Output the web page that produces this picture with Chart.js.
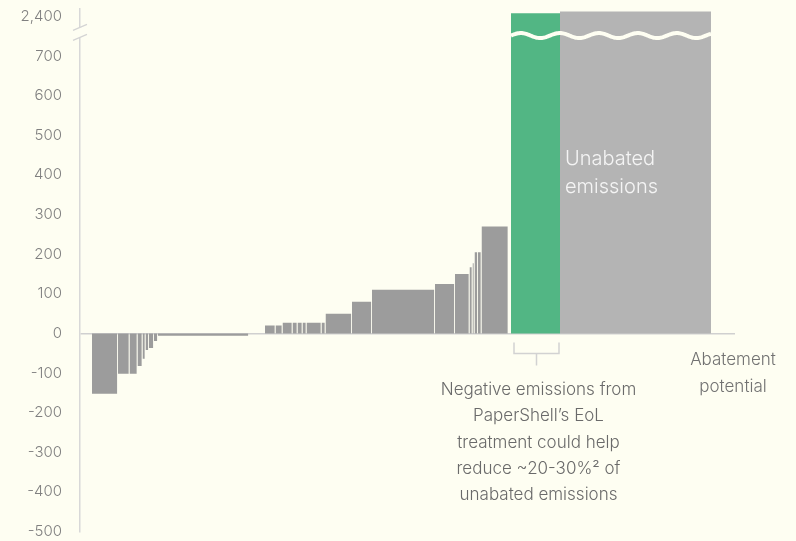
<!DOCTYPE html>
<html>
<head>
<meta charset="utf-8">
<script src="https://cdn.jsdelivr.net/npm/chart.js@4/dist/chart.umd.min.js"></script>
<style>
  html, body { margin: 0; padding: 0; background: #fefef2; }
  #wrap { width: 796px; height: 541px; position: relative; }
</style>
</head>
<body>
<div id="wrap"><canvas id="macChart"></canvas></div>
<script>
// abatement cost curve: cost per measure and its abatement potential (bar width)
var costs      = [-152, -102, -102, -82, -64, -42, -37, -19, -6, 0, 20, 20, 27, 27, 27, 27, 27, 27, 50, 80, 110, 125, 150, 167, 177, 205, 205, 270, 0];
var potentials = [26, 11.5, 8, 5, 3, 3.5, 5, 4, 91, 16, 10.5, 7, 10, 5, 5, 4, 15, 4, 26.5, 20, 63, 20, 14.5, 3, 2, 3.5, 3.5, 27, 2.5];

// negative emissions (green) and remaining unabated emissions (broken axis, shown as 2,400)
var negativePotential  = 49;
var negativeHeight     = 808;
var unabatedPotential  = 151;
var unabatedHeight     = 813;

var yTicks = [-500, -400, -300, -200, -100, 0, 100, 200, 300, 400, 500, 600, 700, 800];
var yTickLabels = ['-500', '-400', '-300', '-200', '-100', '0', '100', '200', '300', '400', '500', '600', '700', '2,400'];

var BG = '#fefef2';
var FONT = 'Inter, "Noto Sans", sans-serif';

function barData(start, width, value, gap) {
    var end = start + width - gap;
    return [{x: start, y: 0}, {x: start, y: value}, {x: end, y: value}, {x: end, y: 0}];
}

var datasets = [];
var pos = 0;
for (var i = 0; i < costs.length; i++) {
    datasets.push({
        data: barData(pos, potentials[i], costs[i], 0.7),
        backgroundColor: '#9c9c9c',
        borderWidth: 0,
        fill: 'origin',
        pointRadius: 0
    });
    pos += potentials[i];
}
var negStart = pos;
datasets.push({
    data: barData(negStart, negativePotential, negativeHeight, 0),
    backgroundColor: '#52b684',
    borderWidth: 0,
    fill: 'origin',
    pointRadius: 0
});
var unabatedStart = negStart + negativePotential;
datasets.push({
    data: barData(unabatedStart, unabatedPotential, unabatedHeight, 0),
    backgroundColor: '#b4b4b4',
    borderWidth: 0,
    fill: 'origin',
    pointRadius: 0
});
var unabatedEnd = unabatedStart + unabatedPotential;

var notes = {
    id: 'notes',
    afterDatasetsDraw: function(chart) {
        var c = chart.ctx, x = chart.scales.x, y = chart.scales.y;
        c.save();
        // wavy break across the tall bars
        var x0 = x.getPixelForValue(negStart), x1 = x.getPixelForValue(unabatedEnd);
        var yw = y.getPixelForValue(752);
        c.strokeStyle = BG;
        c.lineWidth = 4;
        c.beginPath();
        for (var px = x0; px <= x1; px += 1) {
            var py = yw + 2.5 * Math.sin((px - x0) / 39 * 2 * Math.PI + Math.PI);
            if (px === x0) c.moveTo(px, py); else c.lineTo(px, py);
        }
        c.stroke();

        // break marks on the y axis
        var ax = chart.chartArea.left;
        var yb = y.getPixelForValue(760);
        c.fillStyle = BG;
        c.fillRect(ax - 3, yb - 5, 6, 10);
        c.strokeStyle = '#d4d4d4';
        c.lineWidth = 1.2;
        c.beginPath();
        c.moveTo(ax - 7, yb - 2); c.lineTo(ax + 7, yb - 8);
        c.moveTo(ax - 7, yb + 8); c.lineTo(ax + 7, yb + 2);
        c.stroke();

        // bracket under the green bar
        var bl = x.getPixelForValue(negStart) + 3, br = x.getPixelForValue(unabatedStart) - 1;
        var bt = y.getPixelForValue(0) + 9, bb = bt + 11;
        c.strokeStyle = '#d2d2d2';
        c.lineWidth = 1.5;
        c.beginPath();
        c.moveTo(bl, bt); c.lineTo(bl, bb); c.lineTo(br, bb); c.lineTo(br, bt);
        c.moveTo((bl + br) / 2, bb); c.lineTo((bl + br) / 2, bb + 12);
        c.stroke();

        // labels
        c.textBaseline = 'middle';
        c.font = '300 20px ' + FONT;
        c.fillStyle = '#f4f4f4';
        c.textAlign = 'left';
        c.fillText('Unabated', x.getPixelForValue(unabatedStart) + 5, 159);
        c.fillText('emissions', x.getPixelForValue(unabatedStart) + 5, 187);

        c.font = '300 17px ' + FONT;
        c.fillStyle = '#727272';
        c.textAlign = 'center';
        c.fillText('Abatement', chart.chartArea.right - 2, 360);
        c.fillText('potential', chart.chartArea.right - 2, 387);

        var lines = ['Negative emissions from', 'PaperShell\u2019s EoL', 'treatment could help',
                     'reduce ~20-30%\u00b2 of', 'unabated emissions'];
        c.fillStyle = '#6a6a6a';
        var cx = (bl + br) / 2 + 2;
        for (var k = 0; k < lines.length; k++) {
            c.fillText(lines[k], cx, 390 + k * 26.3);
        }
        c.restore();
    }
};

var ctx = document.getElementById('macChart').getContext('2d');
var chart_mac = new Chart(ctx, {
    type: 'line',
    data: { datasets: datasets },
    options: {
        responsive: true,
        maintainAspectRatio: false,
        animation: false,
        elements: { line: { tension: 0 } },
        layout: { padding: { top: 9, bottom: 9.5, left: 0, right: 61 } },
        plugins: {
            legend: { display: false },
            tooltip: { enabled: false }
        },
        scales: {
            x: {
                type: 'linear',
                min: -12,
                max: 643,
                display: false
            },
            y: {
                type: 'linear',
                min: -500,
                max: 819,
                afterBuildTicks: function(scale) {
                    scale.ticks = yTicks.map(function(v) { return {value: v}; });
                },
                afterFit: function(scale) { scale.width = 80; },
                border: { display: true, color: '#d8d8d8', width: 1.5 },
                grid: {
                    drawTicks: true,
                    tickLength: 18,
                    tickColor: 'rgba(0,0,0,0)',
                    color: function(c) { return c.tick && c.tick.value === 0 ? '#d0d0d0' : 'rgba(0,0,0,0)'; },
                    lineWidth: 1.5
                },
                ticks: {
                    padding: 0,
                    color: '#808080',
                    font: { family: FONT, size: 15, weight: '300' },
                    callback: function(v) {
                        var idx = yTicks.indexOf(v);
                        return idx >= 0 ? yTickLabels[idx] : '';
                    }
                }
            }
        }
    },
    plugins: [notes]
});
</script>
</body>
</html>
